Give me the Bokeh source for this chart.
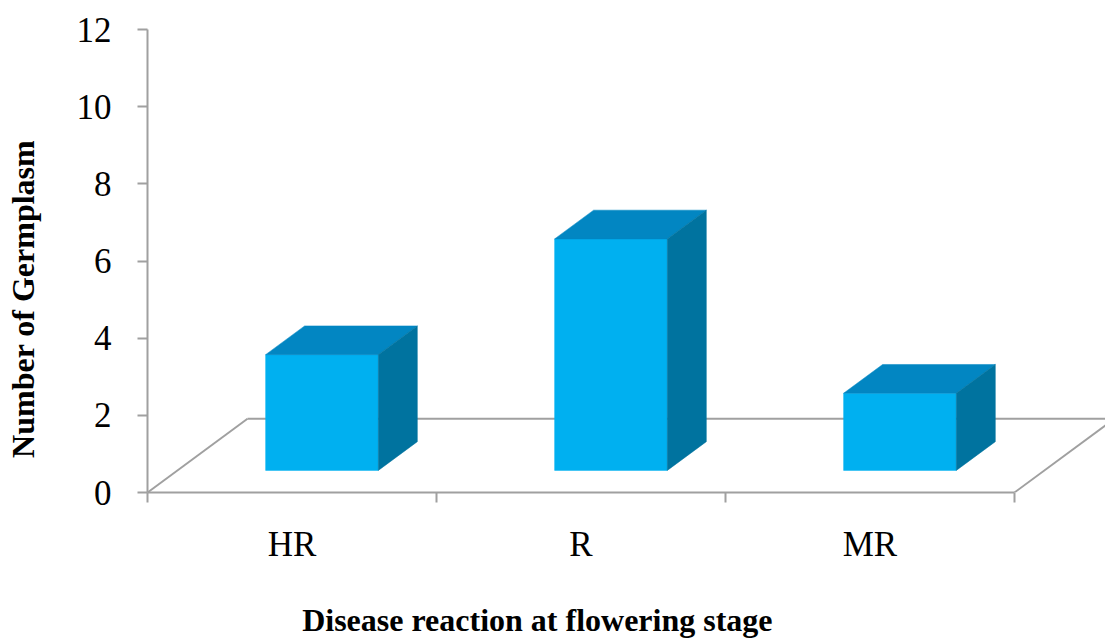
from bokeh.plotting import figure
from bokeh.models import Range1d, FixedTicker, LinearAxis
from bokeh.embed import file_html
from bokeh.resources import INLINE

# ---- data ----
categories = ["HR", "R", "MR"]
counts = [3, 6, 2]
y_ticks = [0, 2, 4, 6, 8, 10, 12]
x_title = "Disease reaction at flowering stage"
y_title = "Number of Germplasm"

# ---- 3D style constants ----
DEPTH_X = 0.346   # floor depth offset in category units
DEPTH_Y = 1.91    # floor depth offset in value units
F0, F1 = 0.30, 0.69
BAR_W = 0.39
FRONT = "#00B0F0"
TOP = "#0286C2"
SIDE = "#00739F"
LINE = "#A0A0A0"
FONT = "Liberation Serif"
XTITLE_AT = 1.349   # horizontal centre of the x title (category units)
YTITLE_AT = 5.02    # vertical centre of the y title (value units)

n = len(categories)
p = figure(width=1105, height=640, output_backend="svg", toolbar_location=None,
           x_range=Range1d(0, 3.315), y_range=Range1d(0, 12),
           min_border_left=147, min_border_right=0, min_border_top=29,
           min_border_bottom=147)
p.outline_line_color = None
p.grid.visible = False
p.background_fill_color = "white"

# floor
p.multi_line(xs=[[0, DEPTH_X], [DEPTH_X, n + DEPTH_X], [n, n + DEPTH_X]],
             ys=[[0, DEPTH_Y], [DEPTH_Y, DEPTH_Y], [0, DEPTH_Y]],
             line_color=LINE, line_width=2)

ox = (F1 - F0) * DEPTH_X
oy = (F1 - F0) * DEPTH_Y
fx, fy, tx, ty, sx, sy = [], [], [], [], [], []
for i, v in enumerate(counts):
    x0 = i + 0.5 - BAR_W / 2 + F0 * DEPTH_X
    x1 = x0 + BAR_W
    y0 = F0 * DEPTH_Y
    y1 = y0 + v
    fx.append([x0, x1, x1, x0]); fy.append([y0, y0, y1, y1])
    tx.append([x0, x1, x1 + ox, x0 + ox]); ty.append([y1, y1, y1 + oy, y1 + oy])
    sx.append([x1, x1 + ox, x1 + ox, x1]); sy.append([y0, y0 + oy, y1 + oy, y1])

p.patches(xs=fx, ys=fy, fill_color=FRONT, line_color=FRONT, line_width=0.5)
p.patches(xs=tx, ys=ty, fill_color=TOP, line_color=TOP, line_width=0.5)
p.patches(xs=sx, ys=sy, fill_color=SIDE, line_color=SIDE, line_width=0.5)

# x axis
xa = p.xaxis[0]
xa.ticker = FixedTicker(ticks=[i + 0.5 for i in range(n)], minor_ticks=list(range(n + 1)))
xa.major_label_overrides = {i + 0.5: c for i, c in enumerate(categories)}
xa.bounds = (0, n)
xa.major_tick_out = 0
xa.major_tick_in = 0
xa.minor_tick_out = 10
xa.minor_tick_in = 0
xa.minor_tick_line_color = LINE
xa.minor_tick_line_width = 2
xa.axis_line_color = LINE
xa.axis_line_width = 2
xa.major_label_text_font = FONT
xa.major_label_text_font_size = "35px"
xa.major_label_text_color = "black"
xa.major_label_standoff = 22

# y axis
ya = p.yaxis[0]
ya.ticker = FixedTicker(ticks=y_ticks, minor_ticks=[])
ya.major_tick_out = 10
ya.major_tick_in = 0
ya.major_tick_line_color = LINE
ya.major_tick_line_width = 2
ya.axis_line_color = LINE
ya.axis_line_width = 2
ya.major_label_text_font = FONT
ya.major_label_text_font_size = "35px"
ya.major_label_text_color = "black"
ya.major_label_standoff = 26

# axis titles, carried by bare outer axes so they can sit off-centre like the reference
xt = LinearAxis(ticker=FixedTicker(ticks=[XTITLE_AT], minor_ticks=[]),
                major_label_overrides={XTITLE_AT: x_title},
                axis_line_color=None, major_tick_line_color=None,
                minor_tick_line_color=None, major_tick_out=0, major_tick_in=0,
                major_label_standoff=35, major_label_text_font=FONT,
                major_label_text_font_style="bold", major_label_text_font_size="32px",
                major_label_text_color="black")
p.add_layout(xt, "below")

yt = LinearAxis(ticker=FixedTicker(ticks=[YTITLE_AT], minor_ticks=[]),
                major_label_overrides={YTITLE_AT: y_title},
                major_label_orientation="vertical",
                axis_line_color=None, major_tick_line_color=None,
                minor_tick_line_color=None, major_tick_out=0, major_tick_in=0,
                major_label_standoff=32, major_label_text_font=FONT,
                major_label_text_font_style="bold", major_label_text_font_size="32px",
                major_label_text_color="black")
p.add_layout(yt, "left")

open("out.html", "w").write(file_html(p, INLINE))
